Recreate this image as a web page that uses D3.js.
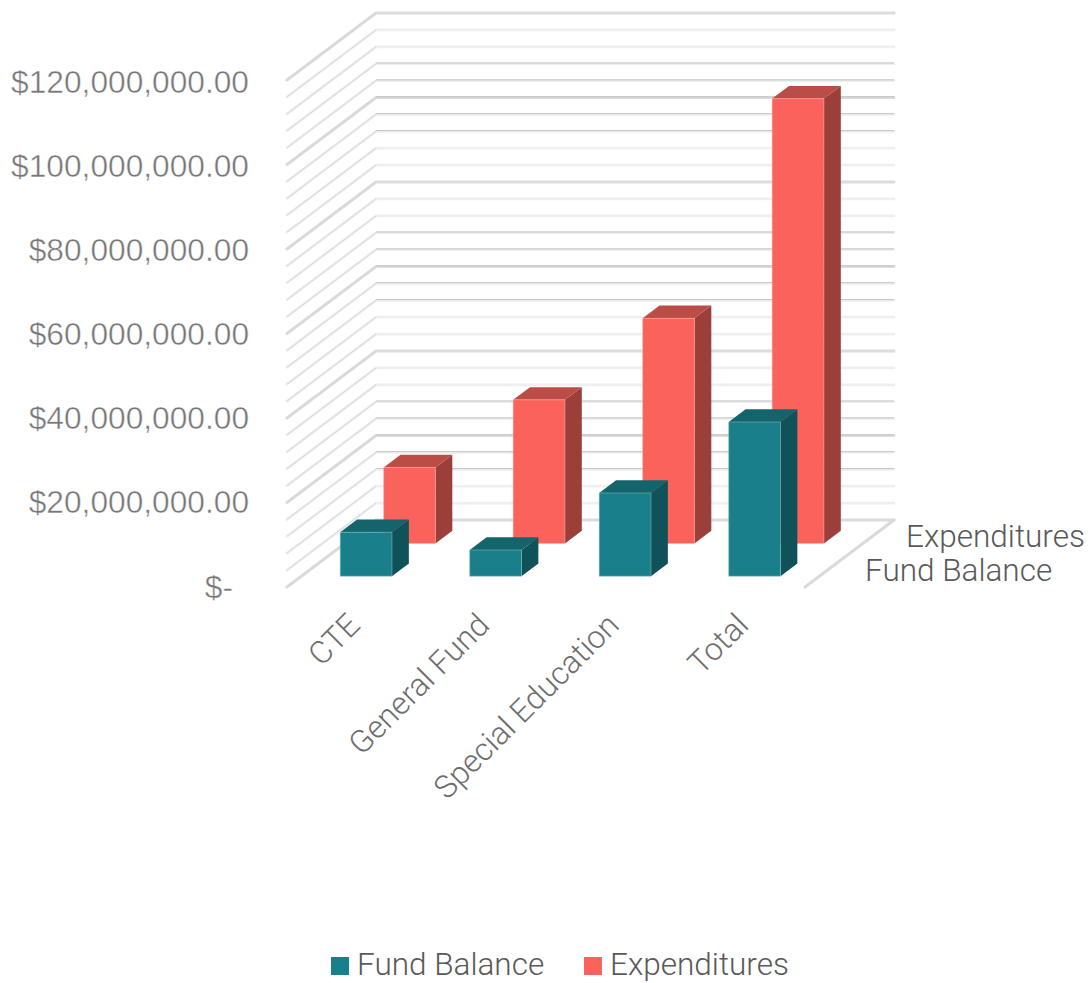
<!DOCTYPE html>
<html><head><meta charset="utf-8">
<script src="https://cdn.jsdelivr.net/npm/d3@7"></script>
<style>
html,body{margin:0;padding:0;background:#fff}
svg{display:block}
text{font-family:Roboto,sans-serif;font-weight:300}
.value-label{font-family:"Liberation Sans",Arial,sans-serif;font-weight:400;stroke:#fff;stroke-width:0.45px}
</style></head><body>
<svg id="chart" width="1091" height="983"></svg>
<script>
const categories = ["CTE","General Fund","Special Education","Total"];
const seriesNames = ["Fund Balance","Expenditures"];
const fundBalance = [10400000,6200000,19700000,36500000];
const expenditures = [18000000,34000000,53300000,105300000];
const valueTicks = [0,20000000,40000000,60000000,80000000,100000000,120000000];
const minorStep = 4000000;

const seriesValues = [fundBalance, expenditures];
const faceColors = ["#19808b","#fa635c"];
const topColors = ["#14646c","#bb4d47"];
const sideColors = ["#0f5259","#9c3e3a"];

const svg = d3.select("#chart");

// Oblique projection: the floor's depth axis runs from the front-left corner to the back wall.
const frontLeft = {x:287, y:587};
const depthVec = {x:89, y:-67};
const wallWidth = 518;

const x = d3.scaleBand().domain(categories).range([0,wallWidth]).paddingInner(0.6).paddingOuter(0.3);
const z = d3.scaleBand().domain(seriesNames).range([0,1]).paddingInner(0.612).paddingOuter(0.33);
const yScale = d3.scaleLinear().domain([0,120000000]).range([0,507]);
const labelBaseline = d3.scaleLinear().domain([0,120000000]).range([597.5,93]);

const project = (px,pz,v) => [
  frontLeft.x + px + pz*depthVec.x,
  frontLeft.y - yScale(v) + pz*depthVec.y
];
const pathOf = pts => d3.line()(pts)+"Z";
const line = d3.line();

// Walls: horizontal rule on the back wall, slanted rule on the side wall
const grid = svg.append("g");
d3.range(0,120000000+1,minorStep).forEach(v=>{
  const major = valueTicks.includes(v);
  const a = project(0,0,v), b = project(0,1,v), c = project(wallWidth,1,v);
  grid.append("path").attr("d",line([a,b,c])).attr("fill","none")
    .attr("stroke",major?"#dcdcdc":"#efefef").attr("stroke-width",major?3.2:2.8)
    .attr("stroke-linecap","round");
  grid.append("path").attr("d",line([a,b])).attr("fill","none")
    .attr("stroke","#d8d8d8").attr("stroke-width",1);
  // Rules that land mid-pixel render with a harder upper edge
  const frac = b[1]-Math.floor(b[1]);
  if(frac>0.25 && frac<0.75){
    grid.append("path").attr("d",line([b,c])).attr("fill","none")
      .attr("transform","translate(0,-0.7)")
      .attr("stroke","#c4c4c4").attr("stroke-width",1);
  }
});
// Floor's right edge
grid.append("path")
  .attr("d",line([project(wallWidth,1,0),project(wallWidth,0,0)]))
  .attr("stroke","#dadada").attr("stroke-width",3).attr("stroke-linecap","round");

// Bars drawn from the back row to the front, left to right
[1,0].forEach(si=>{
  const name = seriesNames[si];
  const z0 = z(name), z1 = z0+z.bandwidth();
  categories.forEach((c,i)=>{
    const v = seriesValues[si][i];
    const x0 = x(c), x1 = x0+x.bandwidth();
    const g = svg.append("g").attr("class","bar");
    g.append("path").attr("fill",sideColors[si])
      .attr("d",pathOf([project(x1,z0,0),project(x1,z1,0),project(x1,z1,v),project(x1,z0,v)]));
    g.append("path").attr("fill",topColors[si])
      .attr("d",pathOf([project(x0,z0,v),project(x1,z0,v),project(x1,z1,v),project(x0,z1,v)]));
    g.append("path").attr("fill",faceColors[si])
      .attr("stroke",si===0?"#8fc0c5":"#fcaaa6").attr("stroke-width",0.5)
      .attr("d",pathOf([project(x0,z0,0),project(x1,z0,0),project(x1,z0,v),project(x0,z0,v)]));
  });
});

// Value axis labels, right aligned to the front edge of the side wall
const fmt = v => v===0 ? "$-" : "$"+d3.format(",.2f")(v);
svg.append("g").selectAll("text").data(valueTicks).join("text")
  .attr("class","value-label")
  .attr("x",d=>d===0?233:249)
  .attr("y",d=>labelBaseline(d))
  .attr("text-anchor","end")
  .attr("font-size",31.7).attr("fill","#767676")
  .text(fmt);

// Category labels at 45 degrees, ending under each bar
svg.append("g").selectAll("text").data(categories).join("text")
  .attr("text-anchor","end").attr("font-size",31.6).attr("fill","#6e6e6e")
  .attr("transform",(d)=>{
    const p = project(x(d)+x.bandwidth()/2,0,0);
    return `translate(${p[0]+10},${p[1]+40}) rotate(-45)`;
  })
  .text(d=>d);

// Depth axis labels beside the floor
svg.append("g").selectAll("text").data(seriesNames).join("text")
  .attr("x",(d,i)=>i===0?865:906).attr("y",(d,i)=>i===0?581:547)
  .attr("font-size",31.5).attr("fill","#595959")
  .text(d=>d);

// Legend
const legend = svg.append("g");
const legendPos = [{sx:331,tx:357},{sx:584,tx:610}];
seriesNames.forEach((n,i)=>{
  legend.append("rect").attr("x",legendPos[i].sx).attr("y",957).attr("width",18).attr("height",18).attr("fill",faceColors[i]);
  legend.append("text").attr("x",legendPos[i].tx).attr("y",975.4).attr("font-size",31.5).attr("fill","#595959").text(n);
});
</script></body></html>
